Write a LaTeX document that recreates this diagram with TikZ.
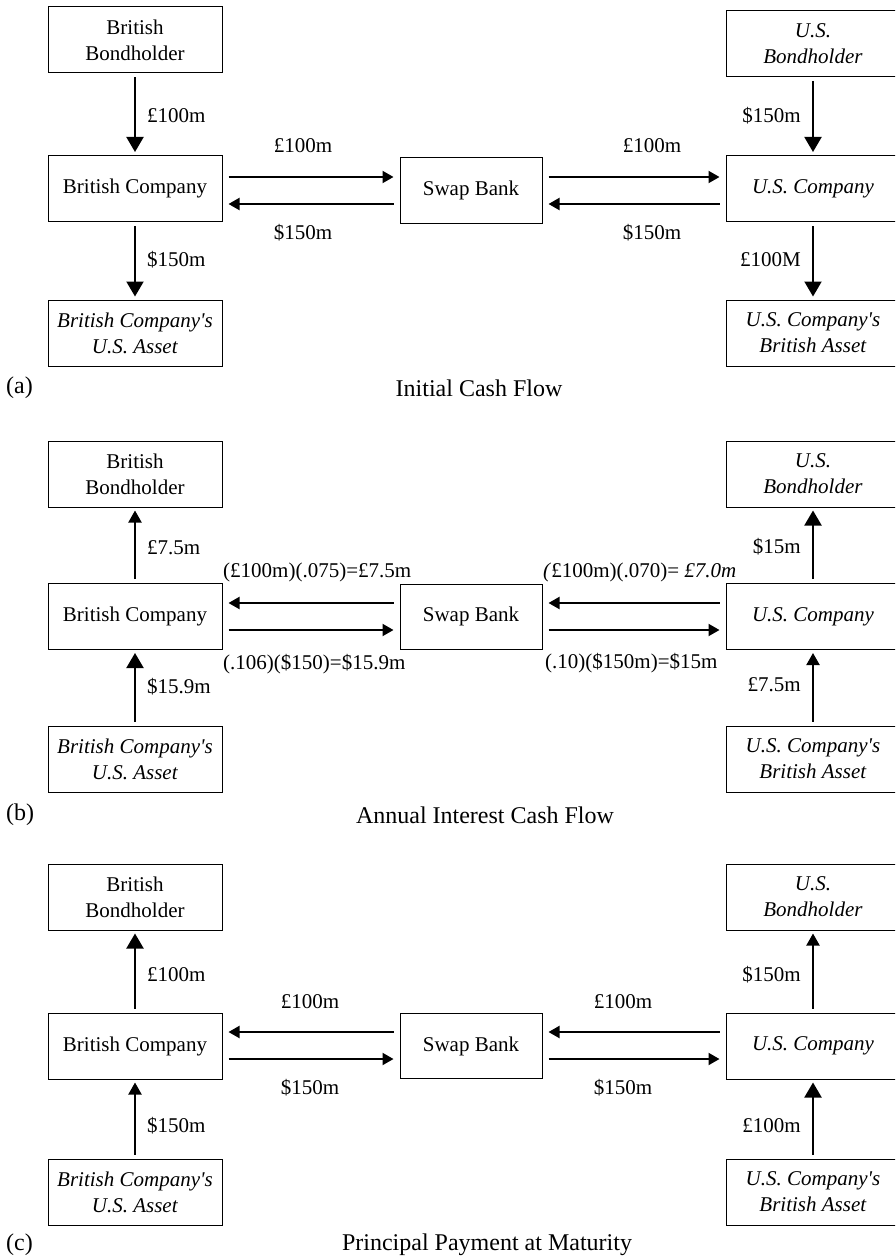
\documentclass[tikz,border=0pt]{standalone}
\usepackage{fontspec}
\setmainfont{Liberation Serif}
\usetikzlibrary{arrows.meta}
\begin{document}
\begin{tikzpicture}[x=1pt,y=-1pt,
  every node/.style={font=\fontsize{21}{26}\selectfont},
  box/.style={draw, line width=1pt, minimum width=174pt, minimum height=66pt, align=center, inner sep=0pt},
  bankbox/.style={box, minimum width=142pt, minimum height=65pt},
  lab/.style={inner sep=0pt},
  caption/.style={inner sep=0pt, font=\fontsize{24}{28}\selectfont},
  vbig/.style={line width=2pt, -{Triangle[length=15pt,width=17pt]}, shorten <=4pt, shorten >=3pt},
  vsmall/.style={line width=2pt, -{Triangle[length=12pt,width=13pt]}, shorten <=4pt, shorten >=3pt},
  harrow/.style={line width=2pt, -{Triangle[length=11pt,width=12pt]}, shorten <=6pt, shorten >=6pt}]
\clip (0,0) rectangle (895,1260);
\fill[white] (0,0) rectangle (895,1260);

% ---------------- (a) Initial cash flow ----------------
\node[box] (bbA) at (135,40) {British\\Bondholder};
\node[box] (bcA) at (135,188.5) {British Company};
\node[box] (baA) at (135,333) {\textit{British Company\textquotesingle s}\\\textit{U.S. Asset}};
\node[bankbox] (sbA) at (471,190.5) {Swap Bank};
\node[box] (ubA) at (813,43.5) {\textit{U.S.}\\\textit{Bondholder}};
\node[box] (ucA) at (813,188.5) {\textit{U.S. Company}};
\node[box] (uaA) at (813,333) {\textit{U.S. Company\textquotesingle s}\\\textit{British Asset}};

\draw[vbig] (bbA) -- (bcA);
\draw[vbig] (bcA) -- (baA);
\draw[vbig] (ubA) -- (ucA);
\draw[vbig] (ucA) -- (uaA);
\draw[harrow] (bcA.east |- 0,177) -- (sbA.west |- 0,177);
\draw[harrow] (sbA.west |- 0,204) -- (bcA.east |- 0,204);
\draw[harrow] (sbA.east |- 0,177) -- (ucA.west |- 0,177);
\draw[harrow] (ucA.west |- 0,204) -- (sbA.east |- 0,204);

\node[lab, anchor=west] (l1) at (147,116) {£100m};
\node[lab, anchor=west] (l2) at (147,260) {\$150m};
\node[lab, anchor=east] (l3) at (801,116) {\$150m};
\node[lab, anchor=east] (l4) at (801,260) {£100M};
\node[lab] (l5) at (303,146) {£100m};
\node[lab] (l6) at (303,233) {\$150m};
\node[lab] (l7) at (652,146) {£100m};
\node[lab] (l8) at (652,233) {\$150m};
\node[caption, anchor=west] (capA) at (6,388) {(a)};
\node[caption] (titA) at (479,388) {Initial Cash Flow};

% ---------------- (b) Annual interest cash flow ----------------
\node[box] (bbB) at (135,474) {British\\Bondholder};
\node[box] (bcB) at (135,616.5) {British Company};
\node[box] (baB) at (135,759) {\textit{British Company\textquotesingle s}\\\textit{U.S. Asset}};
\node[bankbox] (sbB) at (471,616.5) {Swap Bank};
\node[box] (ubB) at (813,474) {\textit{U.S.}\\\textit{Bondholder}};
\node[box] (ucB) at (813,616.5) {\textit{U.S. Company}};
\node[box] (uaB) at (813,759) {\textit{U.S. Company\textquotesingle s}\\\textit{British Asset}};

\draw[vsmall] (bcB) -- (bbB);
\draw[vbig] (baB) -- (bcB);
\draw[vbig] (ucB) -- (ubB);
\draw[vsmall] (uaB) -- (ucB);
\draw[harrow] (sbB.west |- 0,603) -- (bcB.east |- 0,603);
\draw[harrow] (bcB.east |- 0,630) -- (sbB.west |- 0,630);
\draw[harrow] (ucB.west |- 0,603) -- (sbB.east |- 0,603);
\draw[harrow] (sbB.east |- 0,630) -- (ucB.west |- 0,630);

\node[lab, anchor=west] (m1) at (147,548) {£7.5m};
\node[lab, anchor=west] (m2) at (147,687) {\$15.9m};
\node[lab, anchor=east] (m3) at (801,547) {\$15m};
\node[lab, anchor=east] (m4) at (801,685) {£7.5m};
\node[lab, anchor=west] (m5) at (223,572) {(£100m)(.075)=£7.5m};
\node[lab, anchor=west] (m6) at (223,664) {(.106)(\$150)=\$15.9m};
\node[lab, anchor=west] (m7) at (543,572) {\textit{(}£100m)(.070)= \textit{£7.0m}};
\node[lab, anchor=west] (m8) at (545,663) {(.10)(\$150m)=\$15m};
\node[caption, anchor=west] (capB) at (6,815) {(b)};
\node[caption] (titB) at (485,815) {Annual Interest Cash Flow};

% ---------------- (c) Principal payment at maturity ----------------
\node[box] (bbC) at (135,897) {British\\Bondholder};
\node[box] (bcC) at (135,1046) {British Company};
\node[box] (baC) at (135,1192) {\textit{British Company\textquotesingle s}\\\textit{U.S. Asset}};
\node[bankbox] (sbC) at (471,1046) {Swap Bank};
\node[box] (ubC) at (813,897) {\textit{U.S.}\\\textit{Bondholder}};
\node[box] (ucC) at (813,1046) {\textit{U.S. Company}};
\node[box] (uaC) at (813,1192) {\textit{U.S. Company\textquotesingle s}\\\textit{British Asset}};

\draw[vbig] (bcC) -- (bbC);
\draw[vsmall] (baC) -- (bcC);
\draw[vsmall] (ucC) -- (ubC);
\draw[vbig] (uaC) -- (ucC);
\draw[harrow] (sbC.west |- 0,1032) -- (bcC.east |- 0,1032);
\draw[harrow] (bcC.east |- 0,1059) -- (sbC.west |- 0,1059);
\draw[harrow] (ucC.west |- 0,1032) -- (sbC.east |- 0,1032);
\draw[harrow] (sbC.east |- 0,1059) -- (ucC.west |- 0,1059);

\node[lab, anchor=west] (n1) at (147,975) {£100m};
\node[lab, anchor=west] (n2) at (147,1126) {\$150m};
\node[lab, anchor=east] (n3) at (801,975) {\$150m};
\node[lab, anchor=east] (n4) at (801,1126) {£100m};
\node[lab] (n5) at (310,1002) {£100m};
\node[lab] (n6) at (310,1088) {\$150m};
\node[lab] (n7) at (623,1002) {£100m};
\node[lab] (n8) at (623,1088) {\$150m};
\node[caption, anchor=west] (capC) at (6,1245) {(c)};
\node[caption] (titC) at (487,1245) {Principal Payment at Maturity};
\end{tikzpicture}
\end{document}
